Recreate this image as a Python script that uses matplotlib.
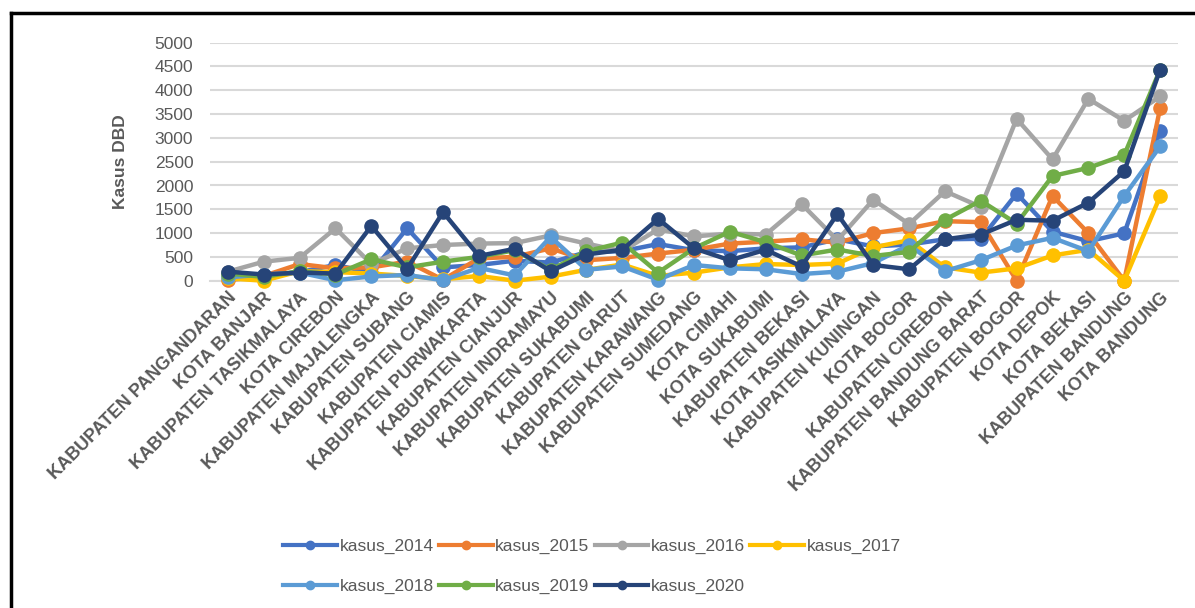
import matplotlib
matplotlib.use('Agg')
import matplotlib.pyplot as plt
from matplotlib.lines import Line2D

plt.rcParams['font.family'] = ['Liberation Sans', 'DejaVu Sans']

# data
kabupaten = [
    'KABUPATEN PANGANDARAN', 'KOTA BANJAR', 'KABUPATEN TASIKMALAYA',
    'KOTA CIREBON', 'KABUPATEN MAJALENGKA', 'KABUPATEN SUBANG',
    'KABUPATEN CIAMIS', 'KABUPATEN PURWAKARTA', 'KABUPATEN CIANJUR',
    'KABUPATEN INDRAMAYU', 'KABUPATEN SUKABUMI', 'KABUPATEN GARUT',
    'KABUPATEN KARAWANG', 'KABUPATEN SUMEDANG', 'KOTA CIMAHI',
    'KOTA SUKABUMI', 'KABUPATEN BEKASI', 'KOTA TASIKMALAYA',
    'KABUPATEN KUNINGAN', 'KOTA BOGOR', 'KABUPATEN CIREBON',
    'KABUPATEN BANDUNG BARAT', 'KABUPATEN BOGOR', 'KOTA DEPOK',
    'KOTA BEKASI', 'KABUPATEN BANDUNG', 'KOTA BANDUNG']

kasus_2014 = [150, 110, 180, 330, 170, 1100, 280, 330, 420, 380, 600, 620, 770, 640,
              620, 680, 700, 870, 720, 760, 870, 880, 1830, 1030, 830, 995, 3145]
kasus_2015 = [10, 100, 350, 260, 280, 400, 20, 470, 500, 680, 430, 480, 570, 650,
              780, 820, 870, 800, 1000, 1100, 1250, 1230, 0, 1780, 1000, 0, 3620]
kasus_2016 = [190, 400, 480, 1100, 350, 680, 750, 780, 790, 950, 780, 620, 1080, 930,
              990, 970, 1610, 850, 1700, 1190, 1880, 1550, 3400, 2550, 3820, 3360, 3870]
kasus_2017 = [50, 0, 200, 180, 150, 100, 30, 100, 0, 85, 230, 340, 100, 170,
              280, 350, 330, 360, 700, 850, 280, 170, 260, 530, 650, 0, 1770]
kasus_2018 = [70, 130, 170, 10, 90, 120, 10, 270, 110, 920, 230, 300, 20, 330,
              260, 240, 140, 190, 370, 750, 200, 430, 740, 900, 620, 1780, 2820]
kasus_2019 = [150, 80, 200, 130, 450, 280, 400, 500, 640, 225, 620, 800, 170, 680,
              1030, 810, 530, 655, 520, 605, 1280, 1680, 1200, 2200, 2370, 2640, 4430]
kasus_2020 = [190, 130, 170, 150, 1150, 250, 1440, 520, 670, 200, 550, 650, 1300, 680,
              430, 650, 300, 1400, 330, 240, 870, 970, 1280, 1260, 1640, 2300, 4430]

series = [
    ('kasus_2014', kasus_2014, '#4472C4'),
    ('kasus_2015', kasus_2015, '#ED7D31'),
    ('kasus_2016', kasus_2016, '#A5A5A5'),
    ('kasus_2017', kasus_2017, '#FFC000'),
    ('kasus_2018', kasus_2018, '#5B9BD5'),
    ('kasus_2019', kasus_2019, '#70AD47'),
    ('kasus_2020', kasus_2020, '#264478'),
]

text_color = '#595959'

fig = plt.figure(figsize=(11.95, 6.08), dpi=100)
ax = fig.add_axes([210 / 1195, 1 - 280.7 / 608, 968 / 1195, 238 / 608])

x = list(range(len(kabupaten)))
handles = {}
for name, vals, color in series:
    ax.plot(x, vals, color=color, lw=3.2, marker='o', ms=9.5,
            solid_joinstyle='round', clip_on=False, zorder=3)
    handles[name] = Line2D([], [], color=color, lw=3, marker='o', ms=6)

ax.set_xlim(-0.5, len(kabupaten) - 0.5)
ax.set_ylim(0, 5000)
ax.set_yticks(range(0, 5001, 500))
ax.yaxis.grid(True, color='#D9D9D9', lw=1.5)
ax.set_axisbelow(True)
for s in ax.spines.values():
    s.set_visible(False)
ax.spines['bottom'].set_visible(True)
ax.spines['bottom'].set_color('#D9D9D9')
ax.spines['bottom'].set_linewidth(1.5)

ax.tick_params(axis='both', length=0, labelcolor=text_color)
ax.tick_params(axis='y', pad=12, labelsize=12.5)
ax.tick_params(axis='x', pad=6, labelsize=13)
ax.set_xticks(x)
ax.set_xticklabels(kabupaten, rotation=45, ha='right', rotation_mode='anchor',
                   fontweight='bold')

ax.set_ylabel('Kasus DBD', fontsize=12.5, fontweight='bold', color=text_color)
ax.yaxis.set_label_coords(-0.085, 0.5)

# legend: 4 on first row, 3 on second
order = ['kasus_2014', 'kasus_2018', 'kasus_2015', 'kasus_2019',
         'kasus_2016', 'kasus_2020', 'kasus_2017']
leg = fig.legend([handles[k] for k in order], order, ncol=4,
                 loc='upper left', bbox_to_anchor=(283 / 1195, 1 - 539 / 608),
                 frameon=False, fontsize=12.5, handlelength=3.1,
                 handletextpad=0.15, columnspacing=0.3, labelspacing=1.4,
                 borderaxespad=0, borderpad=0)
for t in leg.get_texts():
    t.set_color(text_color)

# outer frame (left and top edges only, as in the screenshot)
fig.add_artist(Line2D([11 / 1195, 11 / 1195], [0, 1 - 13 / 608],
                      transform=fig.transFigure, color='black', lw=2.5))
fig.add_artist(Line2D([11 / 1195, 1], [1 - 13 / 608, 1 - 13 / 608],
                      transform=fig.transFigure, color='black', lw=2.5))

plt.savefig('out.png', dpi=100)
